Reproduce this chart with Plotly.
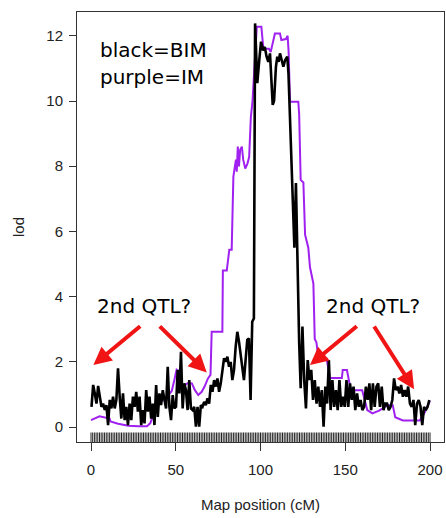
import numpy as np
import plotly.graph_objects as go

# ---------------- data ----------------
# BIM (black) LOD curve, three pieces
black_left_start, black_left_end = 0.3, 96.1
black_left_lod = [0.62, 1.29, 1.03, 0.72, 1.26, 0.88, 0.62, 0.72, 0.52, 0.67,
                  0.06, 0.83, 0.57, 0.93, 0.57, 0.83, 1.80, 0.93, 0.26, 1.03,
                  0.21, 0.62, 0.06, 0.72, 0.21, 0.93, 0.62, 1.08, 0.47, 0.93,
                  0.06, 0.52, 0.11, 1.13, 0.47, 0.93, 0.26, 0.72, 0.06, 1.29,
                  0.31, 1.03, 0.67, 1.13, 0.88, 0.57, 1.85, 0.62, 0.21, 0.98,
                  0.57, 0.62, 1.75, 1.03, 2.31, 0.57, 1.34, 1.13, 0.52, 1.44,
                  0.57, 0.52, 0.62, 0.01, 0.62, 0.01, 0.67, 0.62, 0.77, 0.67,
                  0.88, 0.72, 1.29, 1.08, 1.44, 1.24, 1.49, 1.08, 1.34, 1.75,
                  2.11, 2.00, 2.16, 1.85, 2.00, 1.44, 1.75, 2.46, 2.92, 2.62,
                  2.16, 1.85, 1.44, 2.05, 2.67, 2.72, 0.83, 3.23, 3.33]

black_peak_cM = [96.8, 98.1, 99.3, 100.3, 101.5, 102.5, 103.6, 104.6, 105.6, 106.2,
                 107.2, 108.0, 109.1, 109.9, 110.7, 111.5, 112.5, 113.5, 114.5, 115.8,
                 116.5, 118.0, 119.2, 120.0, 120.9, 121.9, 122.8]
black_peak_lod = [12.38, 10.55, 11.27, 11.82, 11.55, 11.66, 11.36, 11.20, 11.46, 10.64,
                  9.88, 10.00, 11.05, 11.36, 11.20, 11.46, 11.20, 11.05, 11.25, 11.36,
                  10.85, 8.50, 6.80, 5.50, 7.48, 4.50, 2.60]

black_right_start, black_right_end = 123.7, 199.6
black_right_lod = [1.19, 3.08, 1.44, 0.57, 2.05, 1.44, 1.75, 0.83, 1.44, 0.72,
                   1.24, 0.62, 1.13, 0.01, 1.24, 0.72, 2.05, 0.52, 1.44, 0.62,
                   1.13, 0.52, 1.44, 0.62, 0.93, 0.62, 1.44, 0.62, 1.34, 0.83,
                   1.24, 0.52, 1.03, 0.62, 0.83, 0.52, 0.62, 1.24, 0.83, 1.34,
                   0.52, 1.34, 0.62, 1.24, 1.34, 0.62, 1.24, 0.52, 0.72, 0.72,
                   0.52, 0.62, 0.83, 1.49, 1.13, 1.24, 1.03, 1.29, 0.93, 1.13,
                   0.93, 1.24, 0.72, 0.62, 0.83, 0.06, 0.72, 0.83, 0.62, 0.06,
                   0.62, 0.52, 0.62, 0.83]

# IM (purple) LOD curve
purple_cM = [0, 3, 5, 11, 11.5, 16, 22, 28, 33, 35, 36, 37, 38.7, 42.5, 45.5, 47.6,
             49, 50.5, 52, 54, 57.3, 59.5, 61.3, 63.3, 65.3, 67, 69, 70.5, 71.2,
             77.5, 77.8, 80.1, 81.6, 83, 84, 85.5, 86, 86.6, 87.3, 88, 89, 89.8,
             91, 92.3, 93.3, 94.3, 95.3, 96.3, 97.8, 100.5, 101.7, 105, 106, 108.5,
             111.5, 112.3, 115, 116, 116.6, 117.4, 122.3, 122.8, 123.7, 125.3,
             125.7, 126.3, 128.2, 129.2, 131.2, 132, 133, 134, 139, 141, 148,
             148.5, 151, 153, 155, 160, 163, 166, 170, 175, 178, 179.5, 184, 194,
             197, 200]
purple_lod = [0.21, 0.29, 0.33, 0.26, 0.17, 0.10, 0.04, 0.02, 0.02, 0.12, 0.27, 0.47,
              0.67, 0.83, 1.00, 1.10, 1.40, 1.76, 1.70, 1.24, 1.35, 1.34, 1.13, 0.98,
              1.08, 1.24, 1.49, 1.60, 2.92, 2.92, 4.80, 4.80, 5.44, 5.44, 7.68, 8.20,
              7.83, 8.60, 7.99, 8.50, 8.60, 8.20, 7.93, 8.08, 8.28, 9.50, 10.00, 11.05,
              12.28, 12.28, 11.60, 11.60, 11.50, 12.07, 12.07, 11.87, 11.90, 12.00,
              11.50, 9.98, 9.98, 9.60, 7.58, 7.50, 6.80, 5.90, 5.50, 4.90, 4.40, 2.70,
              2.60, 2.15, 2.10, 1.50, 1.50, 1.75, 1.75, 1.20, 1.13, 1.13, 0.52, 0.42,
              0.50, 0.67, 0.67, 0.30, 0.20, 0.20, 0.46, 0.80]

# genetic markers (rug)
marker_cM = list(range(0, 201))

x_ticks = [0, 50, 100, 150, 200]
y_ticks = [0, 2, 4, 6, 8, 10, 12]

# ---------------- build ----------------
bl_x = np.linspace(black_left_start, black_left_end, len(black_left_lod))
br_x = np.linspace(black_right_start, black_right_end, len(black_right_lod))
black_x = list(bl_x) + black_peak_cM + list(br_x)
black_y = black_left_lod + black_peak_lod + black_right_lod

AX_FONT = dict(family="Liberation Sans, Arial, sans-serif", size=15, color="#222")
ANN_FONT = dict(family="DejaVu Sans, Verdana, sans-serif", size=20, color="black")

fig = go.Figure()
fig.add_trace(go.Scatter(x=purple_cM, y=purple_lod, mode="lines",
                         line=dict(color="#A020F0", width=2), hoverinfo="skip"))
fig.add_trace(go.Scatter(x=black_x, y=black_y, mode="lines",
                         line=dict(color="black", width=2.6), hoverinfo="skip"))
fig.add_trace(go.Scatter(x=marker_cM, y=[-0.34] * len(marker_cM), mode="markers",
                         marker=dict(symbol="line-ns", size=8,
                                     line=dict(color="#222", width=1)),
                         hoverinfo="skip"))

annotations = [
    dict(x=4, y=11.55, xref="x", yref="y", text="black=BIM",
         showarrow=False, xanchor="left", yanchor="middle", font=ANN_FONT),
    dict(x=4, y=10.75, xref="x", yref="y", text="purple=IM",
         showarrow=False, xanchor="left", yanchor="middle", font=ANN_FONT),
    dict(x=31.3, y=3.7, xref="x", yref="y", text="2nd QTL?",
         showarrow=False, xanchor="center", yanchor="middle", font=ANN_FONT),
    dict(x=166.5, y=3.7, xref="x", yref="y", text="2nd QTL?",
         showarrow=False, xanchor="center", yanchor="middle", font=ANN_FONT),
]
arrows = [((29.9, 3.13), (1.4, 1.90)),
          ((39.7, 3.13), (68.3, 1.67)),
          ((157.7, 3.13), (129.2, 1.90)),
          ((166.5, 3.13), (190.6, 1.16))]
for (tx, ty), (hx, hy) in arrows:
    annotations.append(dict(x=hx, y=hy, ax=tx, ay=ty, xref="x", yref="y",
                            axref="x", ayref="y", text="", showarrow=True,
                            arrowhead=2, arrowsize=0.9, arrowwidth=4,
                            arrowcolor="#F01414"))

fig.update_layout(
    width=446, height=518,
    margin=dict(l=77, r=2, t=12, b=76),
    paper_bgcolor="white", plot_bgcolor="white",
    showlegend=False,
    annotations=annotations,
)
fig.update_xaxes(range=[-8.26, 208.26], tickvals=x_ticks, ticktext=[str(v) for v in x_ticks],
                 ticks="outside", ticklen=8, tickwidth=1, tickcolor="#333",
                 showline=True, linecolor="#333", linewidth=1, mirror=True,
                 showgrid=False, zeroline=False, tickfont=AX_FONT,
                 ticklabelstandoff=6, automargin=False,
                 title=dict(text="Map position (cM)", font=AX_FONT, standoff=22))
fig.update_yaxes(range=[-0.46, 12.73], tickvals=y_ticks, ticktext=[str(v) for v in y_ticks],
                 ticks="outside", ticklen=7, tickwidth=1, tickcolor="#333",
                 showline=True, linecolor="#333", linewidth=1, mirror=True,
                 showgrid=False, zeroline=False, tickfont=AX_FONT,
                 ticklabelstandoff=3, automargin=False,
                 title=dict(text="lod", font=AX_FONT, standoff=18))

fig.write_html("out.html", config={"displayModeBar": False},
               post_script="document.body.style.margin='0px';document.body.style.overflow='hidden';")
